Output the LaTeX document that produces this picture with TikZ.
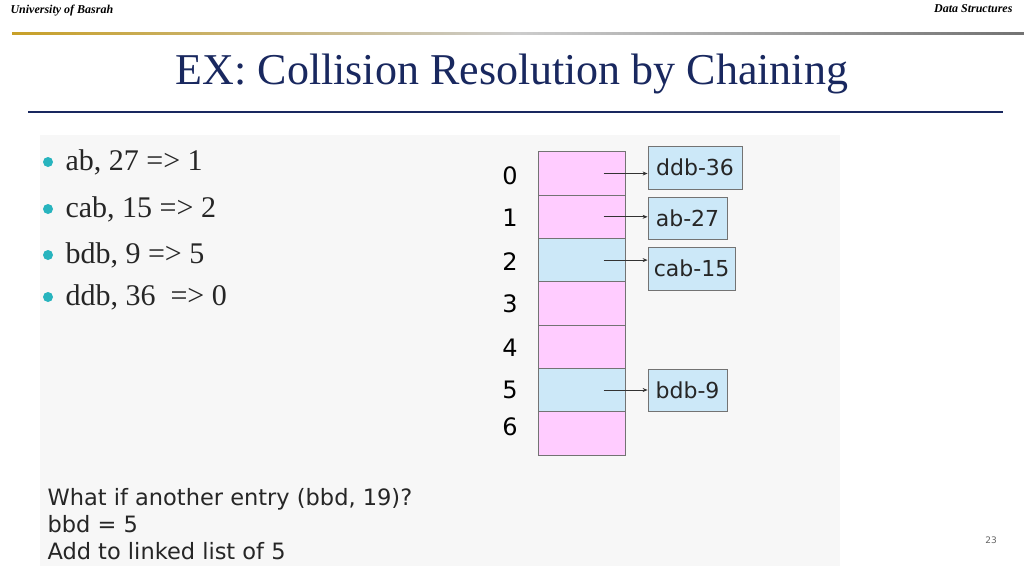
\documentclass[tikz,border=0pt]{standalone}
\usepackage{fontspec}
\setmainfont{Liberation Serif}
\newfontfamily\dv{DejaVu Sans}
\usetikzlibrary{arrows.meta}
\definecolor{navy}{RGB}{25,40,95}
\definecolor{gold}{RGB}{200,160,40}
\definecolor{pinkc}{RGB}{255,204,255}
\definecolor{bluec}{RGB}{204,232,248}
\definecolor{teal}{RGB}{40,180,190}
\begin{document}
\begin{tikzpicture}[x=1pt,y=-1pt,
  cell/.style={draw=black!55,line width=0.8pt,minimum width=87pt,inner sep=0pt},
  lbox/.style={draw=black!55,line width=0.8pt,fill=bluec,inner sep=0pt,text=black!85,font=\dv\fontsize{22}{22}\selectfont},
  lab/.style={font=\dv\fontsize{24}{24}\selectfont},
  bul/.style={anchor=west,text=black!85,font=\fontsize{30}{30}\selectfont},
  arr/.style={-{Stealth[length=5pt,width=4pt]},black!80,line width=0.8pt}]
\useasboundingbox (0,0) rectangle (1024,576);
\fill[white] (0,0) rectangle (1024,576);
\node[anchor=west,font=\itshape\bfseries\fontsize{12}{12}\selectfont] (h1) at (7,11) {University of Basrah};
\node[anchor=east,font=\itshape\bfseries\fontsize{12}{12}\selectfont] (h2) at (1016,9) {Data Structures};
\shade[left color=gold,right color=black!55,middle color=black!20] (12,32) rectangle (1024,34.5);
\node[text=navy,font=\fontsize{44}{44}\selectfont] (t) at (512,74) {EX: Collision Resolution by Chaining};
\draw[navy,line width=1.3pt] (28,112) -- (1003,112);
\fill[black!3] (40,135) rectangle (840,566);
\foreach \y/\t in {162/{ab, 27 =>\ 1},209/{cab, 15 => 2},255/{bdb, 9 => 5},297/{ddb, 36\ \ => 0}}{
  \fill[teal] (48,\y) circle (5);
  \node[bul] at (62,\y) {\t};}
% table
\foreach \i/\c in {0/pinkc,1/pinkc,2/bluec,3/pinkc,4/pinkc,5/bluec,6/pinkc}{
  \node[cell,fill=\c,minimum height=43.3pt] (c\i) at (581.5,{173.5+43.3*\i}) {};}
\foreach \i/\y in {0/176,1/218,2/262,3/304,4/348,5/390,6/427}{
  \node[lab] (l\i) at (510,\y) {\i};}
\node[lbox,minimum width=94pt,minimum height=43pt] (b0) at (695,167.5) {ddb-36};
\node[lbox,minimum width=79pt,minimum height=42pt] (b1) at (687.5,218) {ab-27};
\node[lbox,minimum width=87pt,minimum height=43pt] (b2) at (691.5,268.5) {cab-15};
\node[lbox,minimum width=79pt,minimum height=42pt] (b5) at (687.5,390) {bdb-9};
\foreach \i/\b in {0/b0,1/b1,2/b2,5/b5}{
  \coordinate (s\i) at ([xshift=22pt]c\i.center);
  \draw[arr] (s\i) -- (s\i -| \b.west);}
\node[anchor=west,text=black!85,font=\dv\fontsize{22.5}{27}\selectfont,align=left] (q) at (44,524) {What if another entry (bbd, 19)?\\bbd = 5\\Add to linked list of 5};
\node[text=black!60,font=\dv\fontsize{9}{9}\selectfont] (p) at (991,540) {23};
\end{tikzpicture}
\end{document}
